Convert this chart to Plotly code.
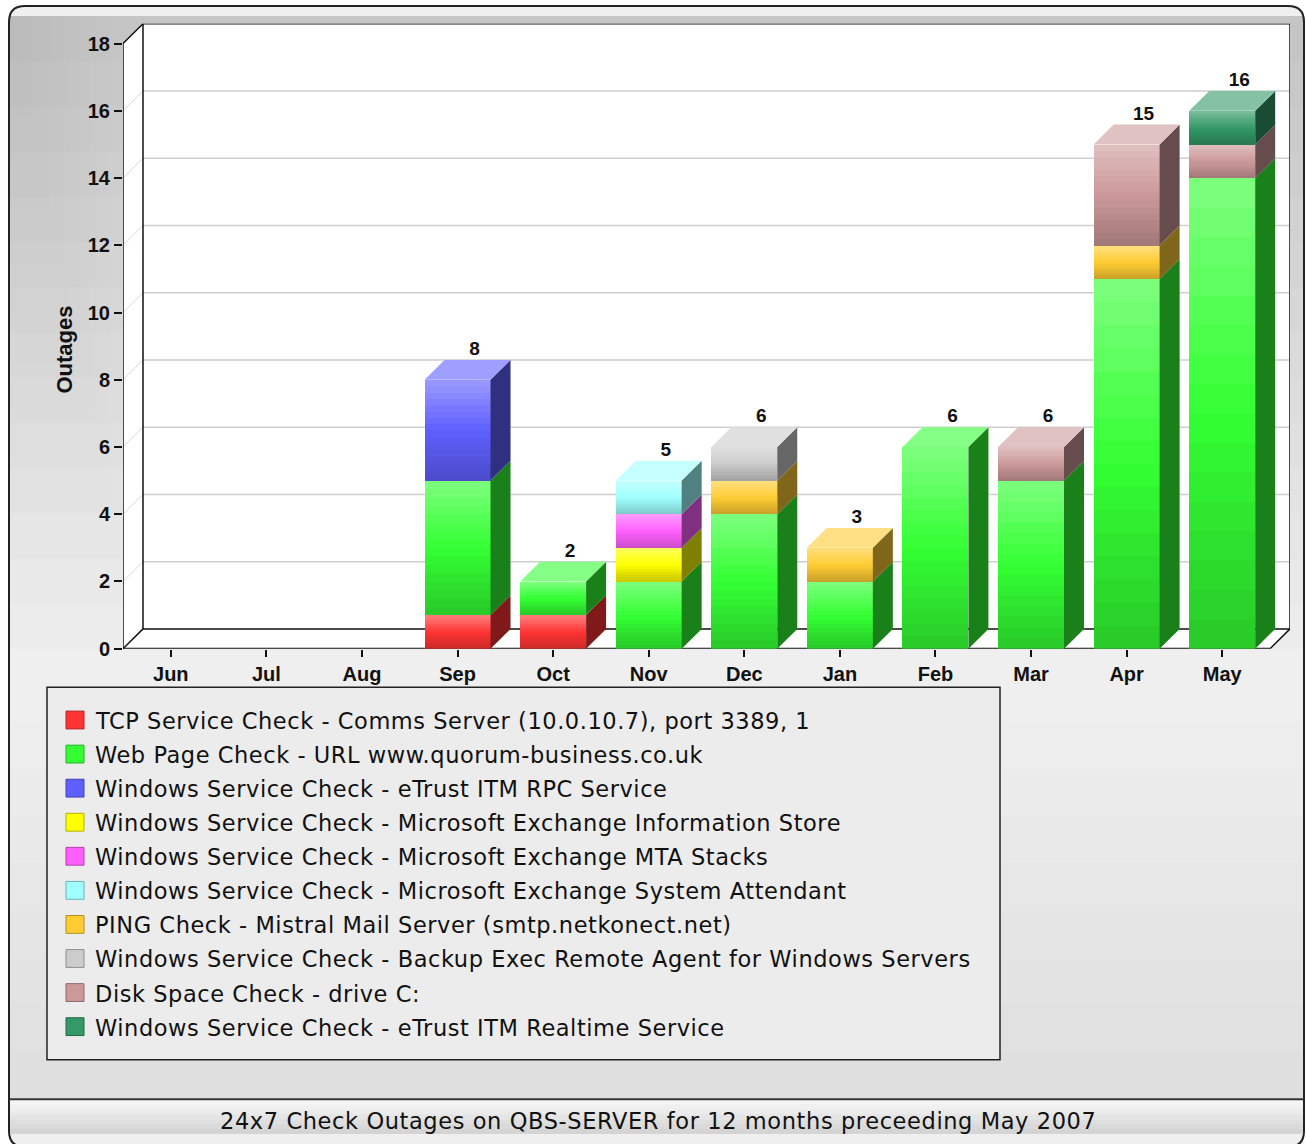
import plotly.graph_objects as go

# months covered (Jun 2006 .. May 2007)
months = ["Jun", "Jul", "Aug", "Sep", "Oct", "Nov", "Dec", "Jan", "Feb", "Mar", "Apr", "May"]

# outages per check, one value per month
tcp_comms = [0, 0, 0, 1, 1, 0, 0, 0, 0, 0, 0, 0]
web_page = [0, 0, 0, 4, 1, 2, 4, 2, 6, 5, 11, 14]
etrust_rpc = [0, 0, 0, 3, 0, 0, 0, 0, 0, 0, 0, 0]
exch_info_store = [0, 0, 0, 0, 0, 1, 0, 0, 0, 0, 0, 0]
exch_mta = [0, 0, 0, 0, 0, 1, 0, 0, 0, 0, 0, 0]
exch_attendant = [0, 0, 0, 0, 0, 1, 0, 0, 0, 0, 0, 0]
ping_mistral = [0, 0, 0, 0, 0, 0, 1, 1, 0, 0, 1, 0]
backup_exec = [0, 0, 0, 0, 0, 0, 1, 0, 0, 0, 0, 0]
disk_c = [0, 0, 0, 0, 0, 0, 0, 0, 0, 1, 3, 1]
etrust_realtime = [0, 0, 0, 0, 0, 0, 0, 0, 0, 0, 0, 1]

series_names = [
    "TCP Service Check - Comms Server (10.0.10.7), port 3389, 1",
    "Web Page Check - URL www.quorum-business.co.uk",
    "Windows Service Check - eTrust ITM RPC Service",
    "Windows Service Check - Microsoft Exchange Information Store",
    "Windows Service Check - Microsoft Exchange MTA Stacks",
    "Windows Service Check - Microsoft Exchange System Attendant",
    "PING Check - Mistral Mail Server (smtp.netkonect.net)",
    "Windows Service Check - Backup Exec Remote Agent for Windows Servers",
    "Disk Space Check - drive C:",
    "Windows Service Check - eTrust ITM Realtime Service",
]
series_values = [tcp_comms, web_page, etrust_rpc, exch_info_store, exch_mta,
                 exch_attendant, ping_mistral, backup_exec, disk_c, etrust_realtime]
series_colors = ["#ff3333", "#33ff33", "#5f5fff", "#ffff00", "#ff5fff",
                 "#9fffff", "#ffcc33", "#cccccc", "#cc9999", "#339966"]

y_ticks = [0, 2, 4, 6, 8, 10, 12, 14, 16, 18]
title_text = "24x7 Check Outages on QBS-SERVER for 12 months preceeding May 2007"

W, H = 1306, 1144
# plot area in pixels (front axes at left/bottom, back wall at right/top)
PL, PR, PT, PB = 123, 1290, 24, 655
DEPTH = 20  # px depth of the pseudo-3d walls
n = len(months)
x_unit = (PR - PL - DEPTH) / n
y_unit = (PB - PT - DEPTH) / y_ticks[-1]
DX = DEPTH / x_unit
DY = DEPTH / y_unit
X0, X1 = -0.5, n - 0.5
YMAX = y_ticks[-1]
BAR_W = 0.69
N_BANDS = 16

LABEL_FONT = "Liberation Sans, Arial, sans-serif"


def hex_rgb(c):
    c = c.lstrip("#")
    return [int(c[i:i + 2], 16) for i in (0, 2, 4)]


def mix(c1, c2, t):
    a, b = hex_rgb(c1), hex_rgb(c2)
    return "#%02x%02x%02x" % tuple(round(a[i] + (b[i] - a[i]) * t) for i in range(3))


def shade(c, f):
    return "#%02x%02x%02x" % tuple(round(v * f) for v in hex_rgb(c))


def band_color(c, t):
    # t = 0 top of a segment, 1 bottom
    light = mix(c, "#ffffff", 0.35)
    dark = shade(c, 0.8)
    if t < 0.5:
        return mix(light, c, t / 0.5)
    return mix(c, dark, (t - 0.5) / 0.5)


def spaced(text, px_gap):
    return f'<span style="letter-spacing:{px_gap}px">{text}</span>'


def px(x):
    return x / W


def py(y):
    return 1 - y / H


fig = go.Figure()

# stack bases
bases = []
running = [0] * n
for vals in series_values:
    bases.append(list(running))
    running = [running[i] + vals[i] for i in range(n)]
totals = running
top_series = []
for i in range(n):
    top = None
    for s, vals in enumerate(series_values):
        if vals[i] > 0:
            top = s
    top_series.append(top)

# front faces: stacked bars drawn as gradient bands
for s, vals in enumerate(series_values):
    for k in range(N_BANDS):
        t = k / (N_BANDS - 1)
        base_k, h_k = [], []
        for i in range(n):
            h = vals[i]
            if h > 0:
                base_k.append(bases[s][i] + h * (N_BANDS - 1 - k) / N_BANDS)
                h_k.append(h / N_BANDS)
            else:
                base_k.append(None)
                h_k.append(None)
        fig.add_trace(go.Bar(
            x=list(range(n)), y=h_k, base=base_k, width=BAR_W,
            marker=dict(color=band_color(series_colors[s], t), line=dict(width=0)),
            showlegend=False, hoverinfo="skip",
        ))

# side and top faces
for s, vals in enumerate(series_values):
    sx, sy, tx, ty = [], [], [], []
    for i in range(n):
        h = vals[i]
        if h <= 0:
            continue
        b = bases[s][i]
        xr = i + BAR_W / 2
        xl = i - BAR_W / 2
        sx += [xr, xr + DX, xr + DX, xr, xr, None]
        sy += [b, b + DY, b + h + DY, b + h, b, None]
        if top_series[i] == s:
            tx += [xl, xr, xr + DX, xl + DX, xl, None]
            ty += [b + h, b + h, b + h + DY, b + h + DY, b + h, None]
    if sx:
        fig.add_trace(go.Scatter(x=sx, y=sy, mode="lines", fill="toself",
                                 fillcolor=shade(series_colors[s], 0.5),
                                 line=dict(width=0), showlegend=False, hoverinfo="skip"))
    if tx:
        fig.add_trace(go.Scatter(x=tx, y=ty, mode="lines", fill="toself",
                                 fillcolor=mix(series_colors[s], "#ffffff", 0.4),
                                 line=dict(width=0), showlegend=False, hoverinfo="skip"))

# totals above the stacks
fig.add_trace(go.Scatter(
    x=[i + DX * 0.85 for i in range(n) if totals[i] > 0],
    y=[totals[i] + DY for i in range(n) if totals[i] > 0],
    text=[str(totals[i]) for i in range(n) if totals[i] > 0],
    mode="text", textposition="top center",
    textfont=dict(family=LABEL_FONT, size=19, color="#111111", weight="bold"),
    showlegend=False, hoverinfo="skip", cliponaxis=False,
))

shapes = []
# outer frame with rounded corners
r = 16
fx0, fx1, fy0, fy1 = 9, 1304, 6, 1158
frame_path = (
    f"M {px(fx0)},{py(fy0 + r)} Q {px(fx0)},{py(fy0)} {px(fx0 + r)},{py(fy0)} "
    f"L {px(fx1 - r)},{py(fy0)} Q {px(fx1)},{py(fy0)} {px(fx1)},{py(fy0 + r)} "
    f"L {px(fx1)},{py(fy1 - r)} Q {px(fx1)},{py(fy1)} {px(fx1 - r)},{py(fy1)} "
    f"L {px(fx0 + r)},{py(fy1)} Q {px(fx0)},{py(fy1)} {px(fx0)},{py(fy1 - r)} Z"
)
shapes.append(dict(type="path", xref="paper", yref="paper", path=frame_path,
                   fillcolor="#efefef", line=dict(color="#222222", width=2), layer="below"))
# soft gradient: darker towards the top and the left
for k in range(14):
    shapes.append(dict(type="rect", xref="paper", yref="paper",
                       x0=px(fx0 + 1), x1=px(fx1 - 1), y0=py(fy0 + 10),
                       y1=py(fy0 + 10 + 640 * (1 - k / 14)),
                       fillcolor="black", opacity=0.011, line=dict(width=0), layer="below"))
for k in range(10):
    shapes.append(dict(type="rect", xref="paper", yref="paper",
                       x0=px(fx0 + 1), x1=px(fx0 + 1 + 100 * (1 - k / 10)), y0=py(fy0 + 10),
                       y1=py(fy0 + 10 + 500 * (1 - k / 10)),
                       fillcolor="black", opacity=0.003, line=dict(width=0), layer="below"))
for k in range(8):
    shapes.append(dict(type="rect", xref="paper", yref="paper",
                       x0=px(fx0 + 1), x1=px(fx1 - 1), y0=py(1109),
                       y1=py(1109 - 380 * (1 - k / 8)),
                       fillcolor="black", opacity=0.008, line=dict(width=0), layer="below"))
# title bar at the bottom
for k in range(7):
    shapes.append(dict(type="rect", xref="paper", yref="paper",
                       x0=px(fx0 + 1), x1=px(fx1 - 1), y0=py(1110 + k * 5), y1=py(1115 + k * 5),
                       fillcolor=mix("#f6f6f6", "#d4d4d4", k / 6), line=dict(width=0), layer="below"))
shapes.append(dict(type="line", xref="paper", yref="paper", x0=px(fx0), x1=px(fx1),
                   y0=py(1110), y1=py(1110), line=dict(color="#333333", width=2), layer="below"))

# pseudo-3d walls (data coordinates)
wall = dict(xref="x", yref="y", layer="below")
shapes.append(dict(type="path", path=f"M {X0},0 L {X0 + DX},{DY} L {X0 + DX},{YMAX + DY} L {X0},{YMAX} Z",
                   fillcolor="white", line=dict(width=0), **wall))
shapes.append(dict(type="path", path=f"M {X0},0 L {X1},0 L {X1 + DX},{DY} L {X0 + DX},{DY} Z",
                   fillcolor="white", line=dict(width=0), **wall))
shapes.append(dict(type="rect", x0=X0 + DX, x1=X1 + DX, y0=DY, y1=YMAX + DY,
                   fillcolor="white", line=dict(width=0), **wall))
for v in y_ticks[1:-1]:
    shapes.append(dict(type="line", x0=X0 + DX, x1=X1 + DX, y0=v + DY, y1=v + DY,
                       line=dict(color="#cfcfcf", width=1.5), **wall))
    shapes.append(dict(type="line", x0=X0, x1=X0 + DX, y0=v, y1=v + DY,
                       line=dict(color="#d8d8d8", width=1), **wall))
edge = dict(color="#111111", width=1.5)
shapes.append(dict(type="rect", x0=X0 + DX, x1=X1 + DX, y0=DY, y1=YMAX + DY,
                   fillcolor="rgba(0,0,0,0)", line=edge, **wall))
shapes.append(dict(type="line", x0=X0, x1=X0, y0=0, y1=YMAX, line=edge, **wall))
shapes.append(dict(type="line", x0=X0, x1=X0 + DX, y0=YMAX, y1=YMAX + DY, line=edge, **wall))
shapes.append(dict(type="line", x0=X0, x1=X0 + DX, y0=0, y1=DY, line=edge, **wall))
shapes.append(dict(type="line", x0=X0, x1=X1, y0=0, y1=0, line=dict(color="#111111", width=2), **wall))
shapes.append(dict(type="line", x0=X1, x1=X1 + DX, y0=0, y1=DY, line=edge, **wall))

# legend box
LX0, LX1, LY0, LY1 = 47, 1000, 694, 1070
shapes.append(dict(type="rect", xref="paper", yref="paper", x0=px(LX0), x1=px(LX1),
                   y0=py(LY0), y1=py(LY1), fillcolor="#ececec",
                   line=dict(color="#222222", width=1.5), layer="below"))
annotations = []
for s, name in enumerate(series_names):
    yc = 727 + 34.4 * s
    shapes.append(dict(type="rect", xref="paper", yref="paper", x0=px(66), x1=px(84),
                       y0=py(yc - 9), y1=py(yc + 9), fillcolor=series_colors[s],
                       line=dict(color=shade(series_colors[s], 0.7), width=1)))
    annotations.append(dict(xref="paper", yref="paper", x=px(93), y=py(yc + 1),
                            text=spaced(name, 0.55),
                            xanchor="left", yanchor="middle", showarrow=False,
                            font=dict(family="DejaVu Sans", size=22.5, color="#111111")))

annotations.append(dict(xref="paper", yref="paper", x=px(65), y=py(353), text="Outages",
                        textangle=-90, showarrow=False, xanchor="center", yanchor="middle",
                        font=dict(family=LABEL_FONT, size=22, color="#111111", weight="bold")))
annotations.append(dict(xref="paper", yref="paper", x=px(658), y=py(1132),
                        text=spaced(title_text, 0.6),
                        showarrow=False, xanchor="center", yanchor="middle",
                        font=dict(family="DejaVu Sans", size=22.5, color="#111111")))

fig.update_layout(
    width=W, height=H,
    margin=dict(l=0, r=0, t=0, b=0),
    paper_bgcolor="white", plot_bgcolor="rgba(0,0,0,0)",
    barmode="overlay", bargap=0,
    showlegend=False,
    shapes=shapes, annotations=annotations,
    xaxis=dict(domain=[px(PL), px(PR)], range=[X0, X1 + DX], tickmode="array",
               tickvals=list(range(n)), ticktext=months, ticks="outside", ticklen=7,
               tickwidth=2, tickcolor="#111111", showgrid=False, zeroline=False,
               showline=False, fixedrange=True,
               tickfont=dict(family=LABEL_FONT, size=20, color="#111111", weight="bold")),
    yaxis=dict(domain=[py(PB), py(PT)], range=[0, YMAX + DY], tickmode="array",
               tickvals=y_ticks, ticks="outside", ticklen=8, tickwidth=2,
               tickcolor="#111111", showgrid=False, zeroline=False, showline=False,
               fixedrange=True,
               tickfont=dict(family=LABEL_FONT, size=20, color="#111111", weight="bold")),
)

# the page body has a default 8px margin; drop it so the figure fills the window
fig.write_html("out.html", config={"displayModeBar": False},
               post_script="document.body.style.margin = '0px';")
